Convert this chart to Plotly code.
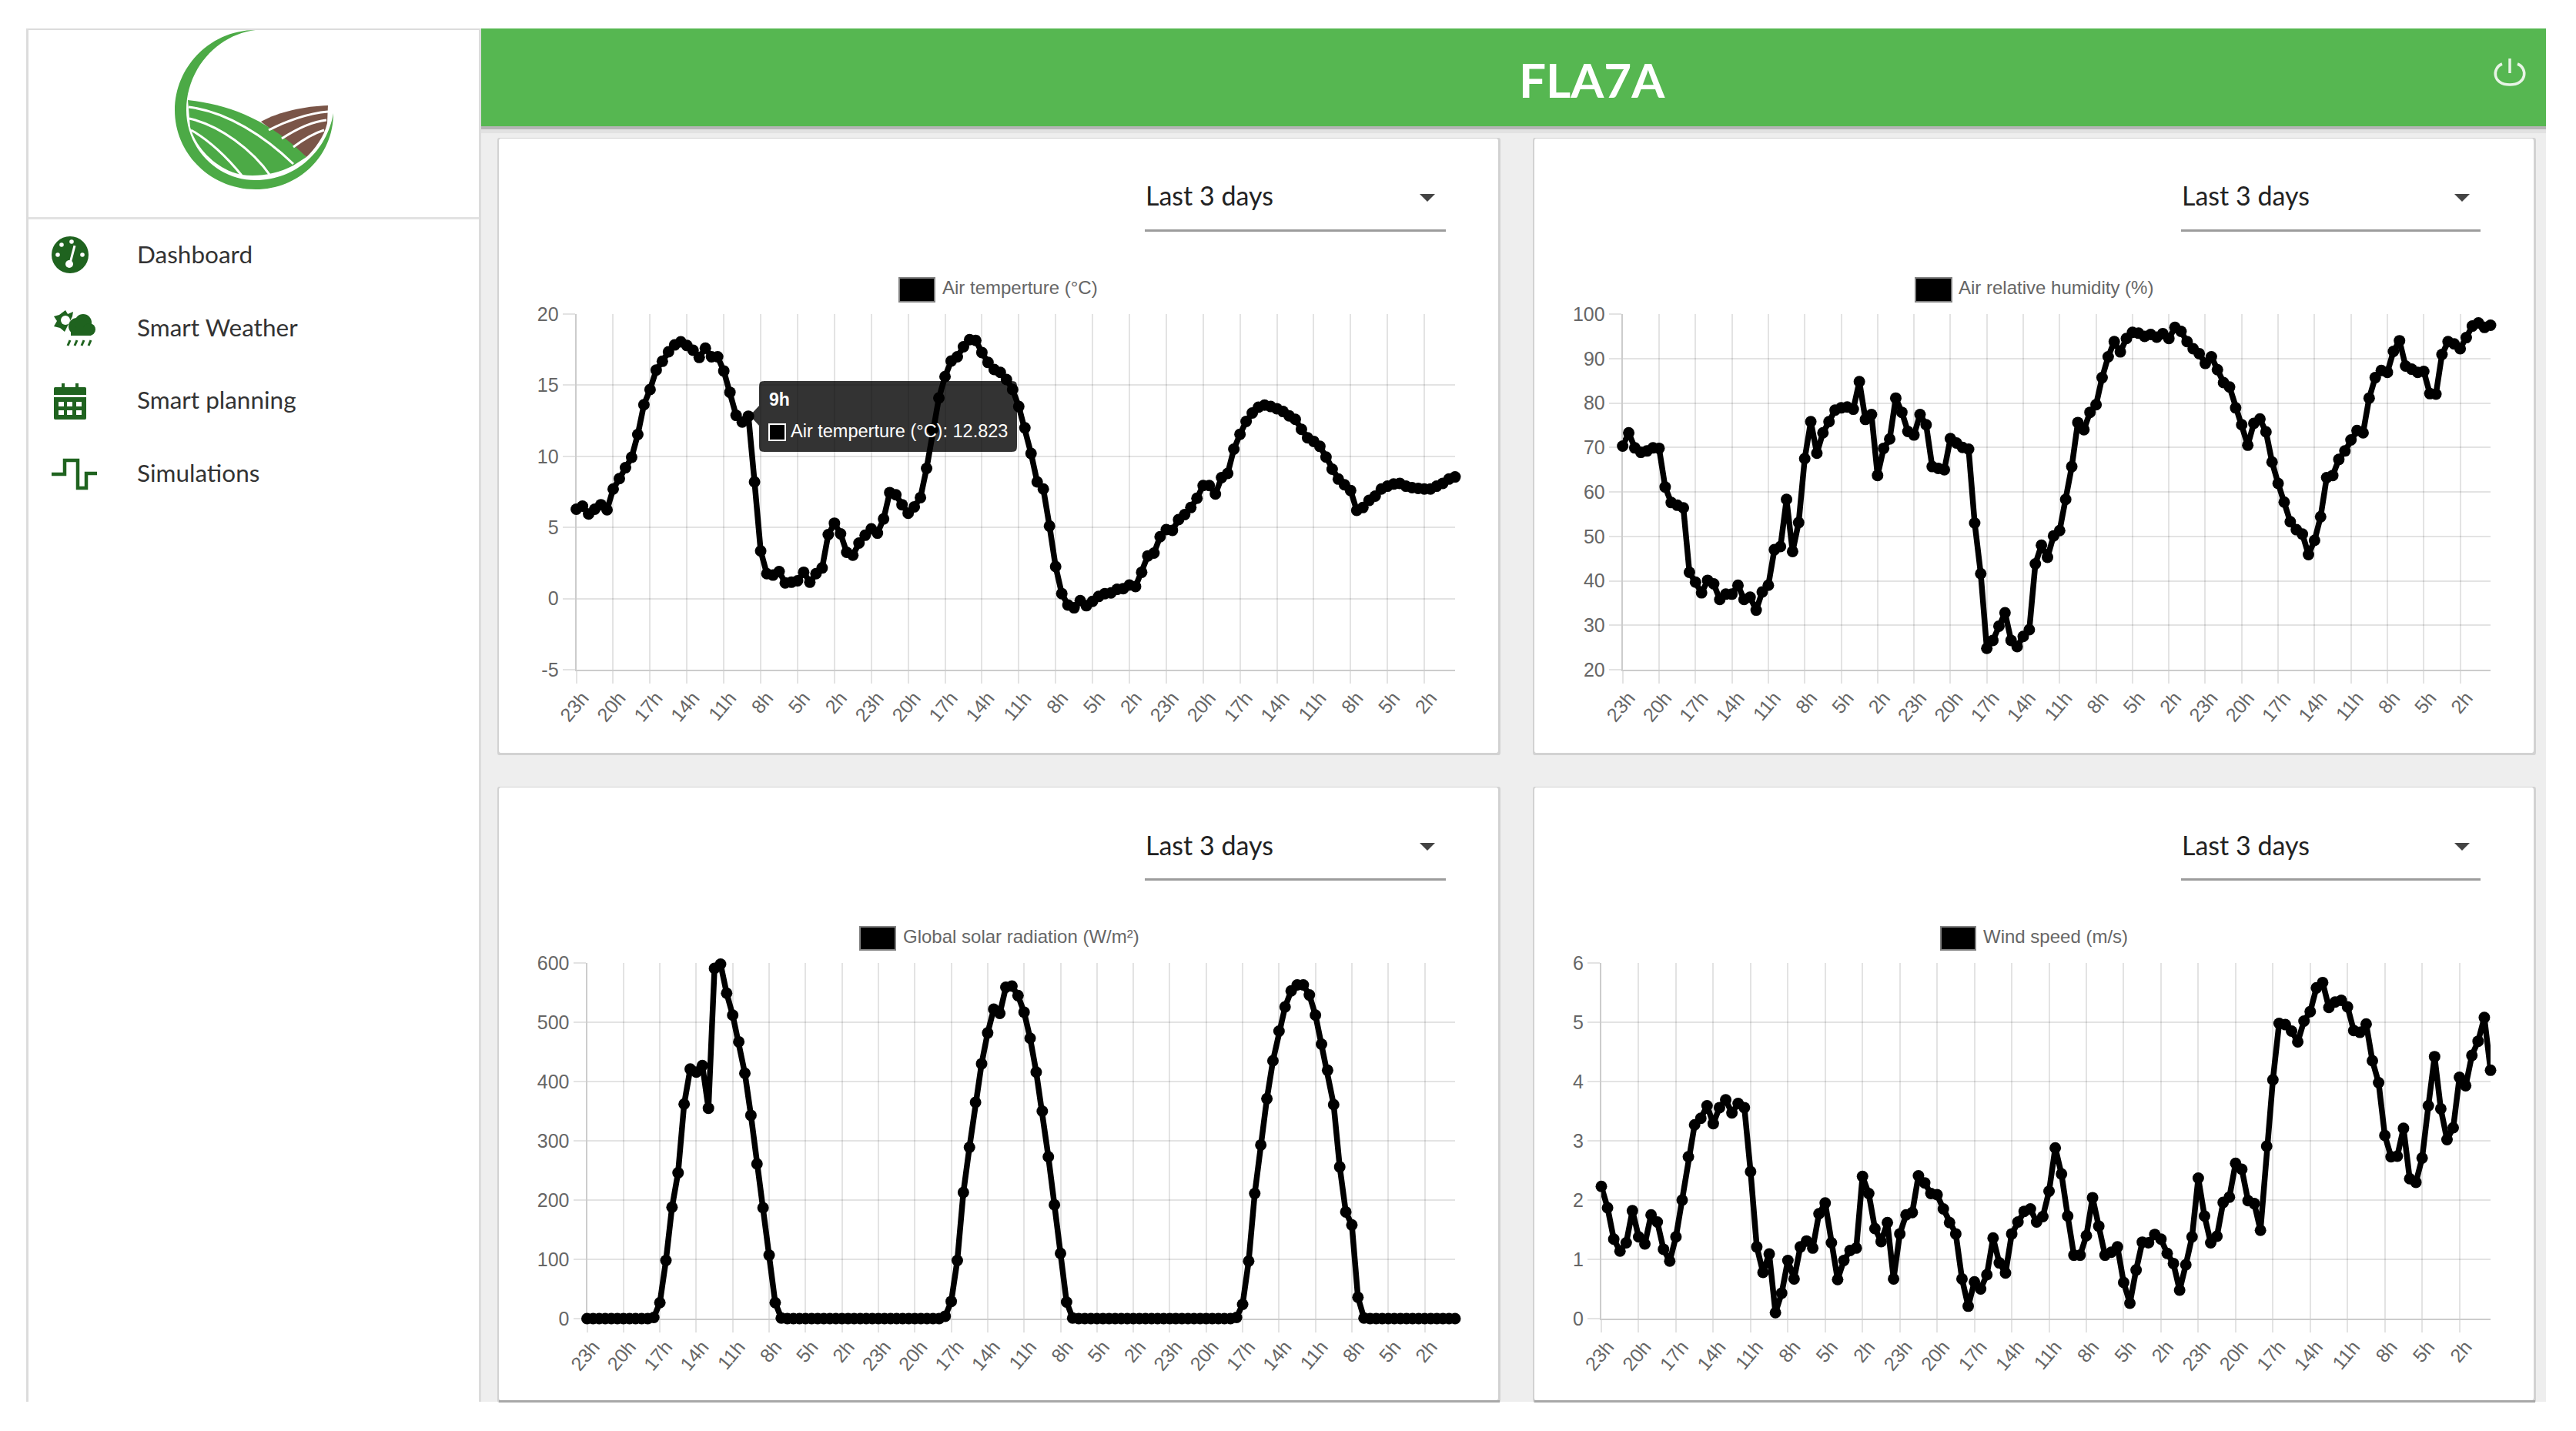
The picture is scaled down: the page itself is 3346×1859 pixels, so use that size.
import plotly.graph_objects as go

# the page keeps its default 8px body margin, so everything is placed 8px up and left
OFFSET = 8
W, H = 3346 - OFFSET, 1859 - OFFSET

# half hourly readings over the last 3 days, newest hour on the left
tick_labels = ["23h", "20h", "17h", "14h", "11h", "8h", "5h", "2h"] * 3

temp_ticks = [-5, 0, 5, 10, 15, 20]
humidity_ticks = [20, 30, 40, 50, 60, 70, 80, 90, 100]
solar_ticks = [0, 100, 200, 300, 400, 500, 600]
wind_ticks = [0, 1, 2, 3, 4, 5, 6]

air_temp = [
    6.28, 6.5, 5.95, 6.28, 6.6, 6.24, 7.7, 8.43, 9.2, 9.93, 11.53, 13.63,
    14.7, 16.06, 16.68, 17.35, 17.83, 18.05, 17.79, 17.46, 16.95, 17.6, 17.0, 17.0,
    16.0, 14.5, 12.88, 12.41, 12.823, 8.2, 3.35, 1.75, 1.65, 1.9, 1.1, 1.15,
    1.25, 1.85, 1.15, 1.75, 2.15, 4.5, 5.3, 4.55, 3.25, 3.05, 3.9, 4.45,
    4.9, 4.6, 5.6, 7.45, 7.3, 6.6, 6.0, 6.45, 7.1, 9.15, 11.9, 14.1,
    15.6, 16.7, 17.0, 17.7, 18.2, 18.15, 17.3, 16.6, 16.1, 15.9, 15.4, 14.7,
    13.5, 12.0, 10.2, 8.2, 7.7, 5.1, 2.25, 0.35, -0.45, -0.65, -0.15, -0.5,
    -0.2, 0.15, 0.35, 0.4, 0.65, 0.7, 0.95, 0.85, 1.85, 3.0, 3.2, 4.35,
    4.85, 4.8, 5.55, 5.9, 6.4, 7.05, 7.95, 7.95, 7.35, 8.5, 8.8, 10.5,
    11.55, 12.45, 13.05, 13.45, 13.6, 13.5, 13.35, 13.15, 12.85, 12.6, 11.9, 11.3,
    11.05, 10.7, 9.95, 9.1, 8.4, 8.0, 7.6, 6.2, 6.4, 6.9, 7.2, 7.7,
    7.9, 8.05, 8.1, 7.9, 7.8, 7.75, 7.7, 7.7, 7.9, 8.1, 8.4, 8.55,
]
humidity = [
    70.3, 73.3, 69.9, 68.9, 69.2, 69.9, 69.8, 61.1, 57.6, 57.0, 56.4, 41.9,
    39.7, 37.3, 40.1, 39.3, 35.8, 37.0, 37.0, 39.0, 35.8, 36.3, 33.4, 37.5,
    39.0, 47.0, 47.7, 58.3, 46.6, 53.1, 67.5, 75.8, 68.7, 73.3, 75.8, 78.4,
    78.9, 79.1, 78.6, 84.8, 76.3, 77.4, 63.7, 69.8, 71.9, 81.1, 77.9, 73.6,
    72.8, 77.4, 75.1, 65.7, 65.3, 65.0, 72.0, 71.0, 70.0, 69.6, 53.0, 41.6,
    24.8, 26.6, 29.8, 32.8, 26.6, 25.2, 27.5, 29.0, 43.8, 48.0, 45.3, 50.1,
    51.3, 58.3, 65.7, 75.6, 74.0, 77.9, 79.6, 85.7, 90.4, 93.8, 91.5, 94.5,
    95.9, 95.7, 95.0, 95.4, 94.8, 95.6, 94.5, 97.0, 96.1, 93.8, 92.2, 91.1,
    88.9, 90.4, 87.5, 84.6, 83.6, 78.9, 75.1, 70.5, 75.4, 76.4, 73.5, 66.7,
    61.9, 57.7, 53.3, 51.5, 50.5, 45.9, 49.1, 54.4, 63.2, 63.7, 67.3, 69.2,
    71.7, 73.8, 73.3, 81.1, 85.7, 87.3, 86.9, 91.6, 94.0, 88.3, 87.6, 86.9,
    87.1, 82.1, 82.0, 90.9, 93.8, 93.3, 92.2, 94.7, 97.3, 98.0, 97.0, 97.5,
]
solar = [
    0, 0, 0, 0, 0, 0, 0, 0, 0, 0, 0, 2,
    27, 98, 188, 246, 362, 421, 416, 427, 355, 591, 598, 549,
    512, 467, 414, 343, 261, 187, 107, 27, 1, 0, 0, 0,
    0, 0, 0, 0, 0, 0, 0, 0, 0, 0, 0, 0,
    0, 0, 0, 0, 0, 0, 0, 0, 0, 0, 0, 4,
    29, 98, 213, 289, 365, 430, 482, 522, 515, 559, 561, 545,
    517, 473, 416, 350, 273, 192, 110, 28, 1, 0, 0, 0,
    0, 0, 0, 0, 0, 0, 0, 0, 0, 0, 0, 0,
    0, 0, 0, 0, 0, 0, 0, 0, 0, 0, 0, 2,
    24, 97, 211, 293, 371, 435, 485, 526, 553, 563, 563, 546,
    512, 463, 419, 361, 256, 180, 158, 36, 1, 0, 0, 0,
    0, 0, 0, 0, 0, 0, 0, 0, 0, 0, 0, 0,
]
wind = [
    2.23, 1.87, 1.34, 1.14, 1.28, 1.82, 1.38, 1.26, 1.75, 1.63, 1.17, 0.97,
    1.38, 2.0, 2.73, 3.27, 3.38, 3.59, 3.29, 3.56, 3.69, 3.47, 3.63, 3.56,
    2.48, 1.21, 0.78, 1.09, 0.1, 0.43, 0.98, 0.67, 1.21, 1.31, 1.19, 1.77,
    1.95, 1.28, 0.66, 0.98, 1.15, 1.19, 2.4, 2.11, 1.52, 1.3, 1.62, 0.67,
    1.43, 1.75, 1.79, 2.41, 2.29, 2.11, 2.09, 1.85, 1.62, 1.43, 0.67, 0.21,
    0.62, 0.5, 0.74, 1.36, 0.94, 0.77, 1.43, 1.63, 1.81, 1.85, 1.63, 1.72,
    2.15, 2.88, 2.44, 1.73, 1.07, 1.07, 1.4, 2.04, 1.56, 1.07, 1.12, 1.21,
    0.61, 0.26, 0.82, 1.29, 1.28, 1.42, 1.34, 1.1, 0.93, 0.48, 0.91, 1.38,
    2.37, 1.73, 1.28, 1.39, 1.96, 2.05, 2.62, 2.52, 1.99, 1.94, 1.49, 2.91,
    4.03, 4.98, 4.96, 4.85, 4.67, 5.02, 5.18, 5.58, 5.67, 5.25, 5.34, 5.37,
    5.26, 4.86, 4.83, 4.97, 4.35, 3.98, 3.09, 2.73, 2.74, 3.21, 2.36, 2.3,
    2.71, 3.59, 4.42, 3.54, 3.02, 3.22, 4.07, 3.93, 4.44, 4.68, 5.08, 4.19,
]
menu_items = ["Dashboard", "Smart Weather", "Smart planning", "Simulations"]

GREEN = "#56b751"
LOGO_GREEN = "#4caa46"
ICON_GREEN = "#1f631f"
BROWN = "#7a5548"
ARIAL = "Liberation Sans, Arial, sans-serif"
UI_FONT = "Lato, sans-serif"
GRID = "rgba(0,0,0,0.11)"
AXIS = "rgba(0,0,0,0.2)"


def fx(x):
    return (x - OFFSET) / W


def fy(y):
    return 1 - (y - OFFSET) / H


def pts(*xy):
    """pixel pairs -> 'x,y x,y' string in paper coordinates"""
    return " ".join(f"{fx(a):.5f},{fy(b):.5f}" for a, b in xy)


def path(*parts):
    """parts are ('M', (x, y)) / ('L', ...) / ('C', p1, p2, p3) / ('Z',)"""
    out = []
    for part in parts:
        out.append(part[0] + " " + pts(*part[1:]))
    return " ".join(out)


shapes = []
annotations = []


def rect(x0, y0, x1, y1, color, layer="below"):
    shapes.append(dict(type="rect", xref="paper", yref="paper", x0=fx(x0), x1=fx(x1),
                       y0=fy(y1), y1=fy(y0), fillcolor=color, line_width=0, layer=layer))


def circle(cx, cy, r, color):
    shapes.append(dict(type="circle", xref="paper", yref="paper", x0=fx(cx - r), x1=fx(cx + r),
                       y0=fy(cy + r), y1=fy(cy - r), fillcolor=color, line_width=0, layer="below"))


def fill_path(d, color, layer="below"):
    shapes.append(dict(type="path", xref="paper", yref="paper", path=d, fillcolor=color,
                       line_width=0, layer=layer))


def stroke_path(d, color, width, layer="below"):
    shapes.append(dict(type="path", xref="paper", yref="paper", path=d, line=dict(color=color, width=width),
                       fillcolor="rgba(0,0,0,0)", layer=layer))


def round_rect(x0, y0, x1, y1, r, color, layer="below"):
    fill_path(path(("M", (x0 + r, y0)), ("L", (x1 - r, y0)), ("C", (x1, y0), (x1, y0), (x1, y0 + r)),
                   ("L", (x1, y1 - r)), ("C", (x1, y1), (x1, y1), (x1 - r, y1)),
                   ("L", (x0 + r, y1)), ("C", (x0, y1), (x0, y1), (x0, y1 - r)),
                   ("L", (x0, y0 + r)), ("C", (x0, y0), (x0, y0), (x0 + r, y0)), ("Z",)), color, layer)


def label(x, y, text, size, color, family=UI_FONT, anchor="left", bold=False):
    annotations.append(dict(x=fx(x), y=fy(y), xref="paper", yref="paper", text=f"<b>{text}</b>" if bold else text,
                            showarrow=False, xanchor=anchor, yanchor="middle", borderpad=0,
                            font=dict(size=size, color=color, family=family)))


# page frame
rect(625, 164, 3307, 1821, "#eeeeee")
rect(625, 164, 3307, 168, "#b5b5b5")
rect(625, 168, 3307, 173, "#e2e2e2")
rect(34, 37, 625, 1821, "#dcdcdc")
rect(37, 39, 622, 1821, "#ffffff")
rect(37, 282, 622, 285, "#e2e2e2")
rect(625, 37, 3307, 164, GREEN)
label(2068, 103, "FLA7A", 62, "#ffffff", anchor="center", bold=True)

# power button
stroke_path(path(("M", (3250, 83)), ("C", (3237, 88), (3237, 110), (3260, 110)), ("C", (3283, 110), (3283, 88), (3270, 83))),
            "#e8f4e6", 3.5)
stroke_path(path(("M", (3260, 76)), ("L", (3260, 95))), "#e8f4e6", 3.5)

# logo
fill_path(path(("M", (332, 39)), ("C", (274, 39), (227, 86), (227, 143)), ("C", (227, 200), (274, 246), (332, 246)),
               ("C", (388, 246), (433, 203), (433, 147)), ("C", (425, 195), (385, 234), (332, 234)),
               ("C", (282, 234), (242, 193), (242, 143)), ("C", (242, 90), (282, 45), (332, 39)), ("Z",)), LOGO_GREEN)
fill_path(path(("M", (339, 158)), ("C", (362, 145), (396, 138), (426, 137)), ("L", (425, 160)),
               ("C", (421, 178), (408, 195), (398, 204)), ("Z",)), BROWN)
fill_path(path(("M", (244, 130)), ("C", (295, 135), (349, 155), (398, 204)), ("L", (381, 215)),
               ("C", (360, 226), (335, 230), (314, 227)), ("C", (285, 222), (255, 195), (247, 165)), ("Z",)), LOGO_GREEN)
for d in [
    path(("M", (245, 139)), ("C", (295, 145), (345, 178), (381, 213))),
    path(("M", (246, 154)), ("C", (286, 163), (328, 195), (351, 228))),
    path(("M", (248, 169)), ("C", (269, 180), (295, 204), (314, 228))),
    path(("M", (349, 169)), ("C", (370, 158), (400, 147), (426, 145))),
    path(("M", (366, 180)), ("C", (383, 169), (404, 158), (424, 156))),
    path(("M", (381, 191)), ("C", (393, 182), (408, 173), (421, 169))),
]:
    stroke_path(d, "#ffffff", 3)

# menu icons
circle(91, 331, 24, ICON_GREEN)
for cx, cy in [(80, 318), (93, 314), (75, 331), (107, 331)]:
    circle(cx, cy, 2.8, "#ffffff")
stroke_path(path(("M", (97, 319)), ("L", (91, 342))), "#ffffff", 3)
circle(90, 343, 5, "#ffffff")

fill_path(path(("M", (85, 403)), ("L", (88, 408)), ("L", (95, 405)), ("L", (94, 411)), ("L", (86, 427)),
               ("L", (84, 431)), ("L", (78, 426)), ("L", (70, 424)), ("L", (74, 417)), ("L", (70, 411)), ("L", (77, 409)), ("Z",)), ICON_GREEN)
circle(85, 416, 6, "#ffffff")
circle(100, 424, 11, ICON_GREEN)
circle(108, 419, 11, ICON_GREEN)
circle(116, 428, 8, ICON_GREEN)
rect(92, 426, 118, 436, ICON_GREEN)
for rx in (88, 97, 106, 115):
    stroke_path(path(("M", (rx + 3, 442)), ("L", (rx, 449))), ICON_GREEN, 3)

round_rect(70, 503, 112, 545, 4, ICON_GREEN)
rect(80, 498, 84, 506, ICON_GREEN)
rect(98, 498, 102, 506, ICON_GREEN)
rect(70, 513, 112, 516, "#ffffff")
for row_y in (522, 533):
    for col_x in (76, 87, 99):
        rect(col_x, row_y, col_x + 7, row_y + 6, "#ffffff")

stroke_path(path(("M", (67, 616)), ("L", (84, 616)), ("L", (84, 598)), ("L", (101, 598)), ("L", (101, 634)),
                 ("L", (112, 634)), ("L", (112, 615)), ("L", (126, 615))), ICON_GREEN, 4.5)

for name, my in zip(menu_items, (330, 425, 519, 614)):
    label(177, my, name, 31.5, "#333333")

# cards: left, right, top, bottom, chart box, legend box, legend text
cards = [
    dict(box=(648, 180, 1946, 978), plot=(748.6, 1890, 408, 870), legend=(1168, 361, 1214, 392, 1223), y=air_temp,
         name="Air temperture (°C)", yr=(-5, 20), ticks=temp_ticks, sel=(1487, 1878, 254)),
    dict(box=(1993, 180, 3291, 978), plot=(2107.7, 3235, 408, 870), legend=(2488, 361, 2535, 392, 2543), y=humidity,
         name="Air relative humidity (%)", yr=(20, 100), ticks=humidity_ticks, sel=(2833, 3222, 254)),
    dict(box=(648, 1023, 1946, 1819), plot=(762.5, 1890, 1251, 1713), legend=(1117, 1204, 1163, 1234, 1172), y=solar,
         name="Global solar radiation (W/m²)", yr=(0, 600), ticks=solar_ticks, sel=(1487, 1878, 1097)),
    dict(box=(1993, 1023, 3291, 1819), plot=(2080, 3235, 1251, 1713), legend=(2521, 1204, 2566, 1234, 2575), y=wind,
         name="Wind speed (m/s)", yr=(0, 6), ticks=wind_ticks, sel=(2833, 3222, 1097)),
]

fig = go.Figure()
layout_axes = {}
for n, c in enumerate(cards, start=1):
    x0, y0, x1, y1 = c["box"]
    round_rect(x0 - 2, y0 - 1, x1 + 3, y1 + 3, 6, "#d2d2d2")
    round_rect(x0, y0, x1, y1, 6, "#ffffff")
    if n > 2:
        rect(x0, y1, x1 + 2, y1 + 3, "#a8a8a8")

    sx0, sx1, sy = c["sel"]
    label(sx0, sy, "Last 3 days", 34, "#222222")
    rect(sx0, sy + 44, sx1, sy + 47, "#9c9c9c")
    fill_path(path(("M", (sx1 - 34, sy - 2)), ("L", (sx1 - 14, sy - 2)), ("L", (sx1 - 24, sy + 8)), ("Z",)), "#444444")

    lx0, ly0, lx1, ly1, tx = c["legend"]
    rect(lx0 - 1, ly0 - 1, lx1 + 1, ly1 + 1, "#808080")
    rect(lx0 + 1, ly0 + 1, lx1 - 1, ly1 - 1, "#000000")
    label(tx, (ly0 + ly1) / 2 - 3, c["name"], 24, "#666666", family=ARIAL)

    px0, px1, py0, py1 = c["plot"]
    xname, yname = ("xaxis", "yaxis") if n == 1 else (f"xaxis{n}", f"yaxis{n}")
    suffix = "" if n == 1 else str(n)
    fig.add_trace(go.Scatter(
        x=list(range(len(c["y"]))), y=c["y"], mode="lines+markers", name=c["name"],
        xaxis="x" + suffix, yaxis="y" + suffix, cliponaxis=False, showlegend=False,
        line=dict(color="#000000", width=7.5), marker=dict(color="#000000", size=15),
    ))
    layout_axes[xname] = dict(
        domain=[fx(px0), fx(px1)], anchor="y" + suffix, range=[0, 143], tickmode="array", automargin=False,
        tickvals=list(range(0, 144, 6)), ticktext=tick_labels, tickangle=-50, ticklabelshift=8, ticklabelstandoff=-6,
        tickfont=dict(size=25, color="#666666", family=ARIAL), ticks="outside", ticklen=16, tickwidth=2,
        tickcolor=GRID, showgrid=True, gridcolor=GRID, gridwidth=2, zeroline=False,
        showline=True, linecolor=AXIS, linewidth=2,
    )
    layout_axes[yname] = dict(
        domain=[fy(py1), fy(py0)], anchor="x" + suffix, range=list(c["yr"]), tickmode="array",
        tickvals=c["ticks"], ticktext=[str(t) for t in c["ticks"]],
        automargin=False, tickfont=dict(size=25, color="#666666", family=ARIAL), ticks="outside", ticklen=16,
        tickwidth=2, tickcolor=GRID, showgrid=True, gridcolor=GRID, gridwidth=2, zeroline=False,
        showline=True, linecolor=AXIS, linewidth=2,
    )

# tooltip left open on the 9h point of the temperature chart
fill_path(path(("M", (986, 527)), ("L", (974, 540)), ("L", (986, 553)), ("Z",)), "rgba(0,0,0,0.8)", layer="above")
round_rect(986, 495, 1321, 587, 12, "rgba(0,0,0,0.8)", layer="above")
rect(998, 550, 1021, 573, "#ffffff", layer="above")
rect(1000, 552, 1019, 571, "#000000", layer="above")
label(998, 519, "9h", 23, "#ffffff", family=ARIAL, bold=True)
label(1026, 560, "Air temperture (°C): 12.823", 23.5, "#ffffff", family=ARIAL)

fig.update_layout(
    width=W, height=H, margin=dict(l=0, r=0, t=0, b=0), paper_bgcolor="#ffffff", plot_bgcolor="rgba(0,0,0,0)",
    shapes=shapes, annotations=annotations, showlegend=False, **layout_axes,
)
fig.write_html("out.html")
